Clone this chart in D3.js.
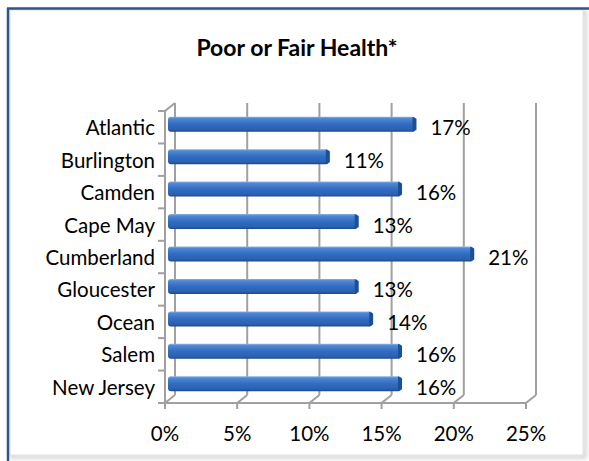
<!DOCTYPE html>
<html>
<head>
<meta charset="utf-8">
<script src="https://cdn.jsdelivr.net/npm/d3@7"></script>
<style>
  body { margin: 0; background: #fff; }
  svg text { font-family: Lato, "Liberation Sans", sans-serif; fill: #000; }
</style>
</head>
<body>
<svg id="chart" width="589" height="461"></svg>
<script>
// data
var counties = ["Atlantic", "Burlington", "Camden", "Cape May", "Cumberland",
                "Gloucester", "Ocean", "Salem", "New Jersey"];
var poorFair = [17, 11, 16, 13, 21, 13, 14, 16, 16];
var tickVals = [0, 5, 10, 15, 20, 25];

var svg = d3.select('#chart');

// outer frame (blue edge + shadowed panel)
var defs = svg.append('defs');
var blur = defs.append('filter').attr('id', 'sh').attr('x', '-5%').attr('y', '-5%')
    .attr('width', '110%').attr('height', '110%');
blur.append('feGaussianBlur').attr('stdDeviation', 2);

svg.append('rect').attr('x', 12).attr('y', 12).attr('width', 573).attr('height', 445)
    .attr('fill', 'none').attr('stroke', '#c8c8c8').attr('stroke-width', 3)
    .attr('filter', 'url(#sh)');
svg.append('rect').attr('x', 10).attr('y', 10).attr('width', 573).attr('height', 445)
    .attr('fill', '#fff').attr('stroke', '#e2e2e2');
svg.append('line').attr('x1', 7).attr('x2', 589).attr('y1', 8.5).attr('y2', 8.5)
    .attr('stroke', '#2c5592').attr('stroke-width', 2.5);
svg.append('line').attr('x1', 8).attr('x2', 8).attr('y1', 8).attr('y2', 461)
    .attr('stroke', '#2c5592').attr('stroke-width', 2.5);

svg.append('text').attr('x', 297).attr('y', 47)
    .attr('text-anchor', 'middle').attr('dominant-baseline', 'central')
    .style('font-size', '23px').style('font-weight', 'bold')
    .text('Poor or Fair Health*');

// scales (front plane), depth offset for back wall
var dx = 10, dy = -8;
var x = d3.scaleLinear().domain([0, 25]).range([165, 526]);
var y = d3.scaleBand().domain(counties).range([111, 403]);

var grid = svg.append('g').attr('stroke', '#a0a0a0').attr('stroke-width', 2).attr('fill', 'none');

// back wall gridlines + floor
tickVals.forEach(function(t) {
    grid.append('line')
        .attr('x1', x(t) + dx).attr('x2', x(t) + dx)
        .attr('y1', y.range()[0] + dy).attr('y2', y.range()[1] + dy);
    grid.append('polyline')
        .attr('points', [[x(t), y.range()[1] + 6], [x(t), y.range()[1]], [x(t) + dx, y.range()[1] + dy]].join(' '));
});
grid.append('line').attr('x1', x(0)).attr('x2', x(25))
    .attr('y1', y.range()[1]).attr('y2', y.range()[1]);

// left wall
grid.append('polyline')
    .attr('points', [[x(0), y.range()[1]], [x(0), y.range()[0]], [x(0) + dx, y.range()[0] + dy]].join(' '));
var bounds = counties.map(function(c) { return y(c); }).concat([y.range()[1]]);
bounds.forEach(function(b) {
    grid.append('line').attr('x1', x(0) - 7).attr('x2', x(0)).attr('y1', b).attr('y2', b);
});

// bar gradients
var g1 = defs.append('linearGradient').attr('id', 'barg').attr('x1', 0).attr('y1', 0).attr('x2', 0).attr('y2', 1);
[[0, '#8cb3e8'], [0.12, '#5088d4'], [0.5, '#316cc2'], [0.85, '#2b61b0'], [1, '#1d4684']].forEach(function(s) {
    g1.append('stop').attr('offset', s[0]).attr('stop-color', s[1]);
});

var bh = 15;
var bars = svg.append('g').selectAll('g').data(counties).join('g');
bars.append('rect')
    .attr('x', x(0) + 3)
    .attr('y', function(d) { return y(d) + y.bandwidth() / 2 - 3 - bh / 2; })
    .attr('width', function(d, i) { return x(poorFair[i]) + 5 - x(0) - 3; })
    .attr('height', bh)
    .attr('rx', 3)
    .attr('fill', 'url(#barg)');
// end cap
bars.append('path')
    .attr('d', function(d, i) {
        var xe = x(poorFair[i]) + 5, yt = y(d) + y.bandwidth() / 2 - 3 - bh / 2;
        return 'M' + (xe - 3) + ',' + yt + 'L' + (xe + 1) + ',' + (yt + 2) +
            'L' + (xe + 1) + ',' + (yt + bh - 2) + 'L' + (xe - 3) + ',' + (yt + bh) + 'Z';
    })
    .attr('fill', '#1f4f93');

// value labels
svg.append('g').selectAll('text').data(counties).join('text')
    .attr('x', function(d, i) { return x(poorFair[i]) + 20; })
    .attr('y', function(d) { return y(d) + y.bandwidth() / 2; })
    .attr('dominant-baseline', 'central')
    .style('font-size', '20.5px')
    .text(function(d, i) { return poorFair[i] + '%'; });

// category labels
svg.append('g').selectAll('text').data(counties).join('text')
    .attr('x', 155)
    .attr('y', function(d) { return y(d) + y.bandwidth() / 2; })
    .attr('text-anchor', 'end').attr('dominant-baseline', 'central')
    .style('font-size', '20.5px')
    .text(function(d) { return d; });

// x tick labels
svg.append('g').selectAll('text').data(tickVals).join('text')
    .attr('x', function(t) { return x(t); })
    .attr('y', 433)
    .attr('text-anchor', 'middle').attr('dominant-baseline', 'central')
    .style('font-size', '20.5px')
    .text(function(t) { return t + '%'; });
</script>
</body>
</html>
